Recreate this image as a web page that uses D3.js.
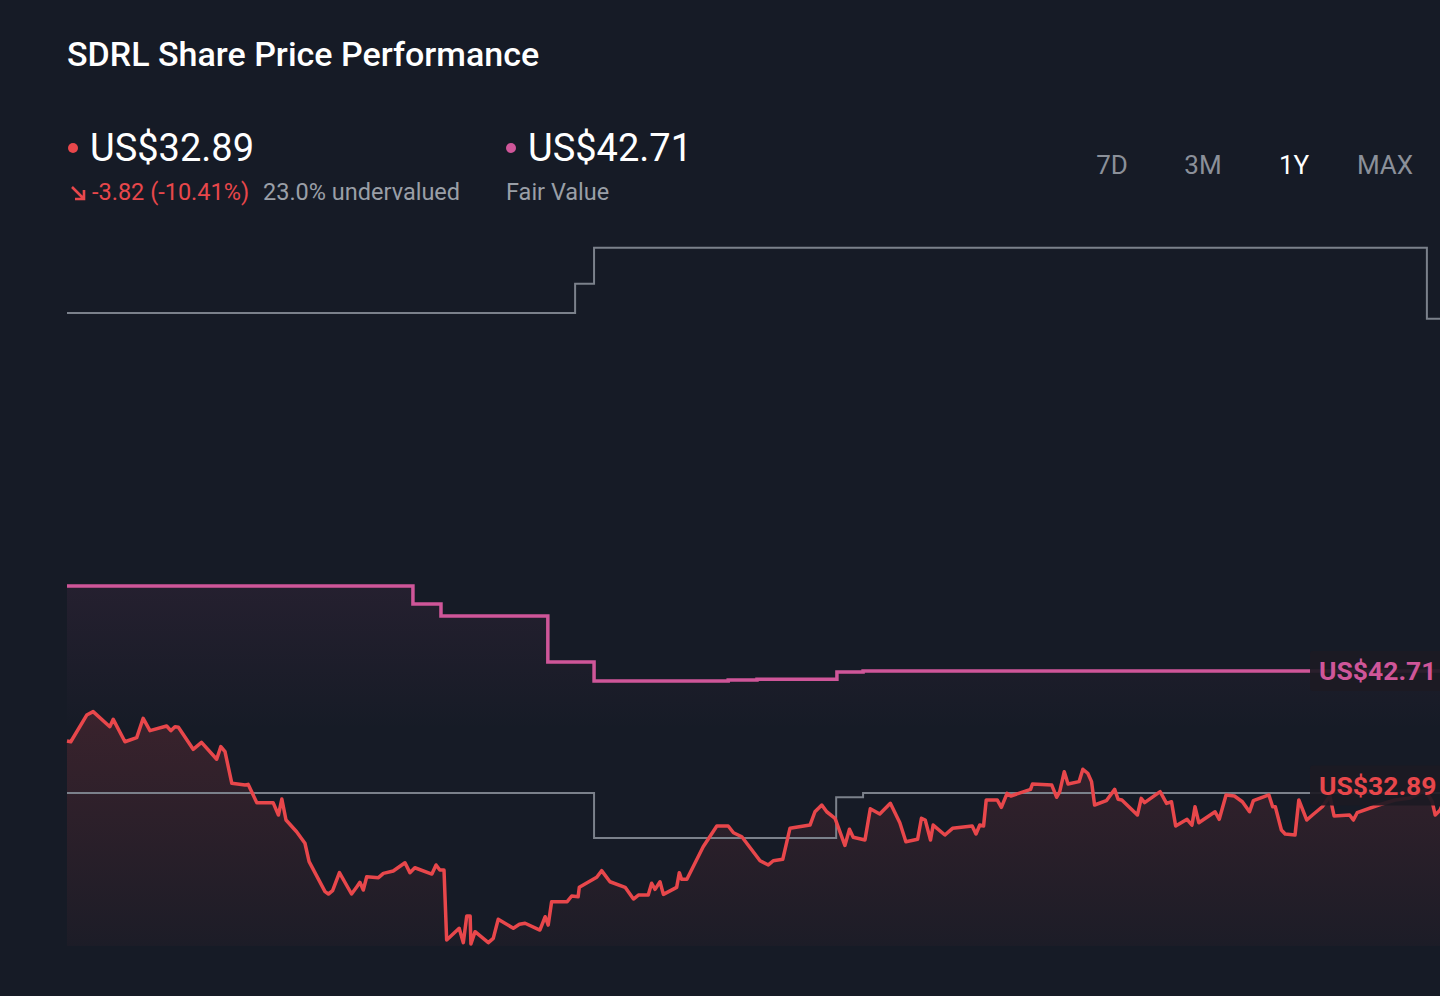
<!DOCTYPE html>
<html lang="en">
<head>
    <meta charset="UTF-8">
    <title>SDRL Share Price Performance</title>
    <script src="https://d3js.org/d3.v7.min.js"></script>
    <style>
        html, body { margin: 0; padding: 0; background: #161b26; overflow: hidden; }
        text { font-family: Roboto, "Noto Sans", sans-serif; }
    </style>
</head>
<body>
<script>
    const width  = 1440;
    const height = 996;

    // [day offset, US$]
    const priceSeries = [
        [0,36.71],[1,36.65],[5.2,38.94],[6.9,39.23],[11.3,37.94],[12.2,38.57],[15.3,36.65],[18.4,37.00],
        [20.1,38.66],[21.9,37.60],[26.3,38.00],[27.4,37.60],[28.5,37.94],[29.4,37.89],[33.3,36.00],[35.5,36.60],
        [39.5,35.15],[40.6,36.23],[41.7,35.80],[43.5,33.09],[47.0,32.94],[47.8,33.00],[50.1,31.43],[54.4,31.43],
        [55.8,30.37],[56.7,31.74],[57.8,29.94],[60.6,28.94],[62.8,27.95],[63.9,26.37],[68.1,23.80],[69.0,23.60],
        [70.1,23.88],[71.9,25.43],[75.1,23.60],[76.5,24.23],[77.3,24.60],[78.2,23.94],[79.1,25.08],[82.2,25.00],
        [83.5,25.37],[86.1,25.57],[89.2,26.28],[90.5,25.43],[91.8,25.85],[96.3,25.31],[97.4,26.09],[98.4,25.66],
        [99.5,25.66],[100.2,19.66],[103.5,20.66],[104.6,19.43],[105.5,21.71],[106.4,21.71],[106.6,19.31],[107.7,20.37],
        [111.2,19.43],[112.5,19.80],[113.8,21.43],[117.8,20.66],[119.4,21.00],[120.9,21.09],[124.8,20.51],[126.2,21.65],
        [127.0,20.94],[127.9,22.94],[132.0,22.94],[133.2,23.43],[134.9,23.37],[135.2,24.17],[139.8,25.03],[141.1,25.60],
        [143.3,24.65],[147.3,24.17],[149.5,23.17],[150.8,23.51],[153.4,23.51],[154.3,24.52],[155.2,24.00],[156.5,24.65],
        [157.4,23.57],[160.9,24.17],[161.6,25.43],[162.2,24.86],[163.6,24.86],[167.9,27.65],[171.5,29.43],[174.5,29.43],
        [175.9,28.85],[178.1,28.51],[182.9,26.45],[185.1,26.09],[186.4,26.45],[188.9,26.57],[190.8,29.23],[196.1,29.51],
        [197.4,30.65],[199.2,31.23],[200.5,30.65],[202.7,30.09],[205.3,27.76],[206.5,29.15],[207.5,28.46],[210.6,28.23],
        [212.0,30.90],[214.5,30.46],[217.3,31.37],[219.8,29.71],[221.4,28.08],[224.5,28.29],[225.5,30.09],[226.5,29.94],
        [227.9,28.23],[228.6,29.51],[231.7,28.66],[233.7,29.23],[238.9,29.43],[239.9,28.74],[240.9,29.51],[241.9,29.43],
        [242.6,31.66],[245.5,31.66],[246.6,31.03],[248.1,32.23],[249.1,32.00],[254.3,32.57],[254.8,33.03],[259.9,32.94],
        [261.2,31.89],[262.0,32.37],[263.2,34.08],[264.2,33.03],[267.1,33.23],[268.1,34.29],[269.4,33.95],[270.4,33.23],
        [271.2,31.23],[274.3,31.60],[276.5,32.57],[277.4,31.72],[278.4,31.66],[282.5,30.37],[283.5,31.80],[284.4,31.43],
        [288.5,32.37],[290.2,31.37],[291.5,31.51],[292.6,29.43],[295.6,30.00],[296.9,29.51],[297.7,31.08],[298.7,29.71],
        [303.0,30.65],[304.1,30.00],[305.9,32.09],[308.1,32.00],[310.2,31.51],[312.1,30.65],[313.1,31.60],[317.2,32.09],
        [318.2,31.08],[318.9,31.08],[320.5,29.09],[321.5,28.74],[324.1,28.66],[325.1,31.66],[327.2,29.94],[328.7,30.37],
        [331.3,31.08],[333.3,32.00],[334.4,30.29],[338.5,30.37],[339.5,29.94],[340.5,30.57],[346.2,31.23],[350.5,31.66],
        [354.5,31.83],[358.5,32.51],[360.3,31.51],[361.1,30.37],[362.4,30.80],[365,32.89]
    ];

    // step series: [day the level starts, US$]
    const fairValueSteps = [[0,50.00],[91.3,48.46],[98.7,47.43],[126.9,43.49],[139.1,41.86],[174.5,41.94],[182.1,42.00],[203.2,42.63],[210.1,42.71],[365,42.71]];
    const upperBandSteps = [[0,73.4],[134.1,75.9],[139.1,79.0],[358.9,72.9],[365,72.9]];
    const lowerBandSteps = [[0,32.26],[139.1,28.4],[203.0,31.9],[210.1,32.26],[365,32.26]];

    const lastPrice   = 32.89;
    const fairValue   = 42.71;
    const priceChange = "-3.82 (-10.41%)";
    const valuation   = "23.0% undervalued";
    const periods     = ["7D", "3M", "1Y", "MAX"];
    const activePeriod = "1Y";

    const red  = "#e8474b";
    const pink = "#cf5699";
    const gray = "#7b818b";

    const x = d3.scaleLinear().domain([0, 365]).range([67, 1450]);
    const y = d3.scaleLinear().domain([20, 80]).range([936, 236]);
    const plotBottom = 946;

    const svg = d3.select("body")
            .append("svg")
            .attr("width", width)
            .attr("height", height);

    svg.append("rect").attr("width", width).attr("height", height).attr("fill", "#161b26");

    const defs = svg.append("defs");
    const gRed = defs.append("linearGradient").attr("id", "gRed")
            .attr("x1", 0).attr("y1", 0).attr("x2", 0).attr("y2", 1);
    gRed.append("stop").attr("offset", "0%").attr("stop-color", red).attr("stop-opacity", 0.17);
    gRed.append("stop").attr("offset", "100%").attr("stop-color", red).attr("stop-opacity", 0.03);
    const gPink = defs.append("linearGradient").attr("id", "gPink")
            .attr("x1", 0).attr("y1", 0).attr("x2", 0).attr("y2", 1);
    gPink.append("stop").attr("offset", "0%").attr("stop-color", pink).attr("stop-opacity", 0.08);
    gPink.append("stop").attr("offset", "40%").attr("stop-color", pink).attr("stop-opacity", 0.0);

    // title
    svg.append("text").attr("x", 67).attr("y", 66)
            .attr("fill", "#ffffff").attr("font-size", 34).attr("font-weight", 500)
            .text("SDRL Share Price Performance");

    // price block
    svg.append("circle").attr("cx", 73).attr("cy", 148).attr("r", 5).attr("fill", red);
    svg.append("text").attr("x", 90).attr("y", 161)
            .attr("fill", "#ffffff").attr("font-size", 38)
            .text("US$" + lastPrice.toFixed(2));
    svg.append("path")
            .attr("d", "M72,187 L84,199 M84,190 L84,199 L75,199")
            .attr("stroke", red).attr("stroke-width", 2.6).attr("fill", "none");
    svg.append("text").attr("x", 92).attr("y", 200)
            .attr("fill", red).attr("font-size", 23.5)
            .text(priceChange);
    svg.append("text").attr("x", 263).attr("y", 200)
            .attr("fill", "#9a9fa7").attr("font-size", 23.5)
            .text(valuation);

    // fair value block
    svg.append("circle").attr("cx", 511).attr("cy", 148).attr("r", 5).attr("fill", pink);
    svg.append("text").attr("x", 528).attr("y", 161)
            .attr("fill", "#ffffff").attr("font-size", 38)
            .text("US$" + fairValue.toFixed(2));
    svg.append("text").attr("x", 506).attr("y", 200)
            .attr("fill", "#9a9fa7").attr("font-size", 23.5)
            .text("Fair Value");

    // period switch
    const periodX = d3.scalePoint().domain(periods).range([1112, 1385]);
    svg.selectAll(".period").data(periods).enter().append("text")
            .attr("class", "period")
            .attr("x", d => periodX(d)).attr("y", 174)
            .attr("text-anchor", "middle")
            .attr("font-size", 26)
            .attr("fill", d => d === activePeriod ? "#ffffff" : "#8b9099")
            .text(d => d);

    // areas
    const stepArea = d3.area().curve(d3.curveStepAfter)
            .x(d => x(d[0])).y0(plotBottom).y1(d => y(d[1]));
    svg.append("path").datum(fairValueSteps).attr("d", stepArea).attr("fill", "url(#gPink)");

    const priceArea = d3.area()
            .x(d => x(d[0])).y0(plotBottom).y1(d => y(d[1]));
    svg.append("path").datum(priceSeries).attr("d", priceArea).attr("fill", "url(#gRed)");

    // lines
    const stepLine = d3.line().curve(d3.curveStepAfter).x(d => x(d[0])).y(d => y(d[1]));
    svg.append("path").datum(upperBandSteps).attr("d", stepLine)
            .attr("fill", "none").attr("stroke", gray).attr("stroke-width", 2);
    svg.append("path").datum(lowerBandSteps).attr("d", stepLine)
            .attr("fill", "none").attr("stroke", gray).attr("stroke-width", 2);
    svg.append("path").datum(fairValueSteps).attr("d", stepLine)
            .attr("fill", "none").attr("stroke", pink).attr("stroke-width", 3.5);

    const priceLine = d3.line().x(d => x(d[0])).y(d => y(d[1]));
    svg.append("path").datum(priceSeries).attr("d", priceLine)
            .attr("fill", "none").attr("stroke", red).attr("stroke-width", 3.5)
            .attr("stroke-linejoin", "round");

    // value tags on the right
    const tags = [
        { value: fairValue, color: pink },
        { value: lastPrice, color: red }
    ];
    const tag = svg.selectAll(".tag").data(tags).enter().append("g")
            .attr("class", "tag")
            .attr("transform", d => "translate(1310," + y(d.value) + ")");
    tag.append("rect").attr("x", 0).attr("y", -20).attr("width", 150).attr("height", 40).attr("rx", 3)
            .attr("fill", "#1c1a23").attr("fill-opacity", 0.92);
    tag.append("text").attr("x", 9).attr("y", 9)
            .attr("font-size", 26.5).attr("font-weight", 700)
            .attr("fill", d => d.color)
            .text(d => "US$" + d.value.toFixed(2));
</script>
</body>
</html>
